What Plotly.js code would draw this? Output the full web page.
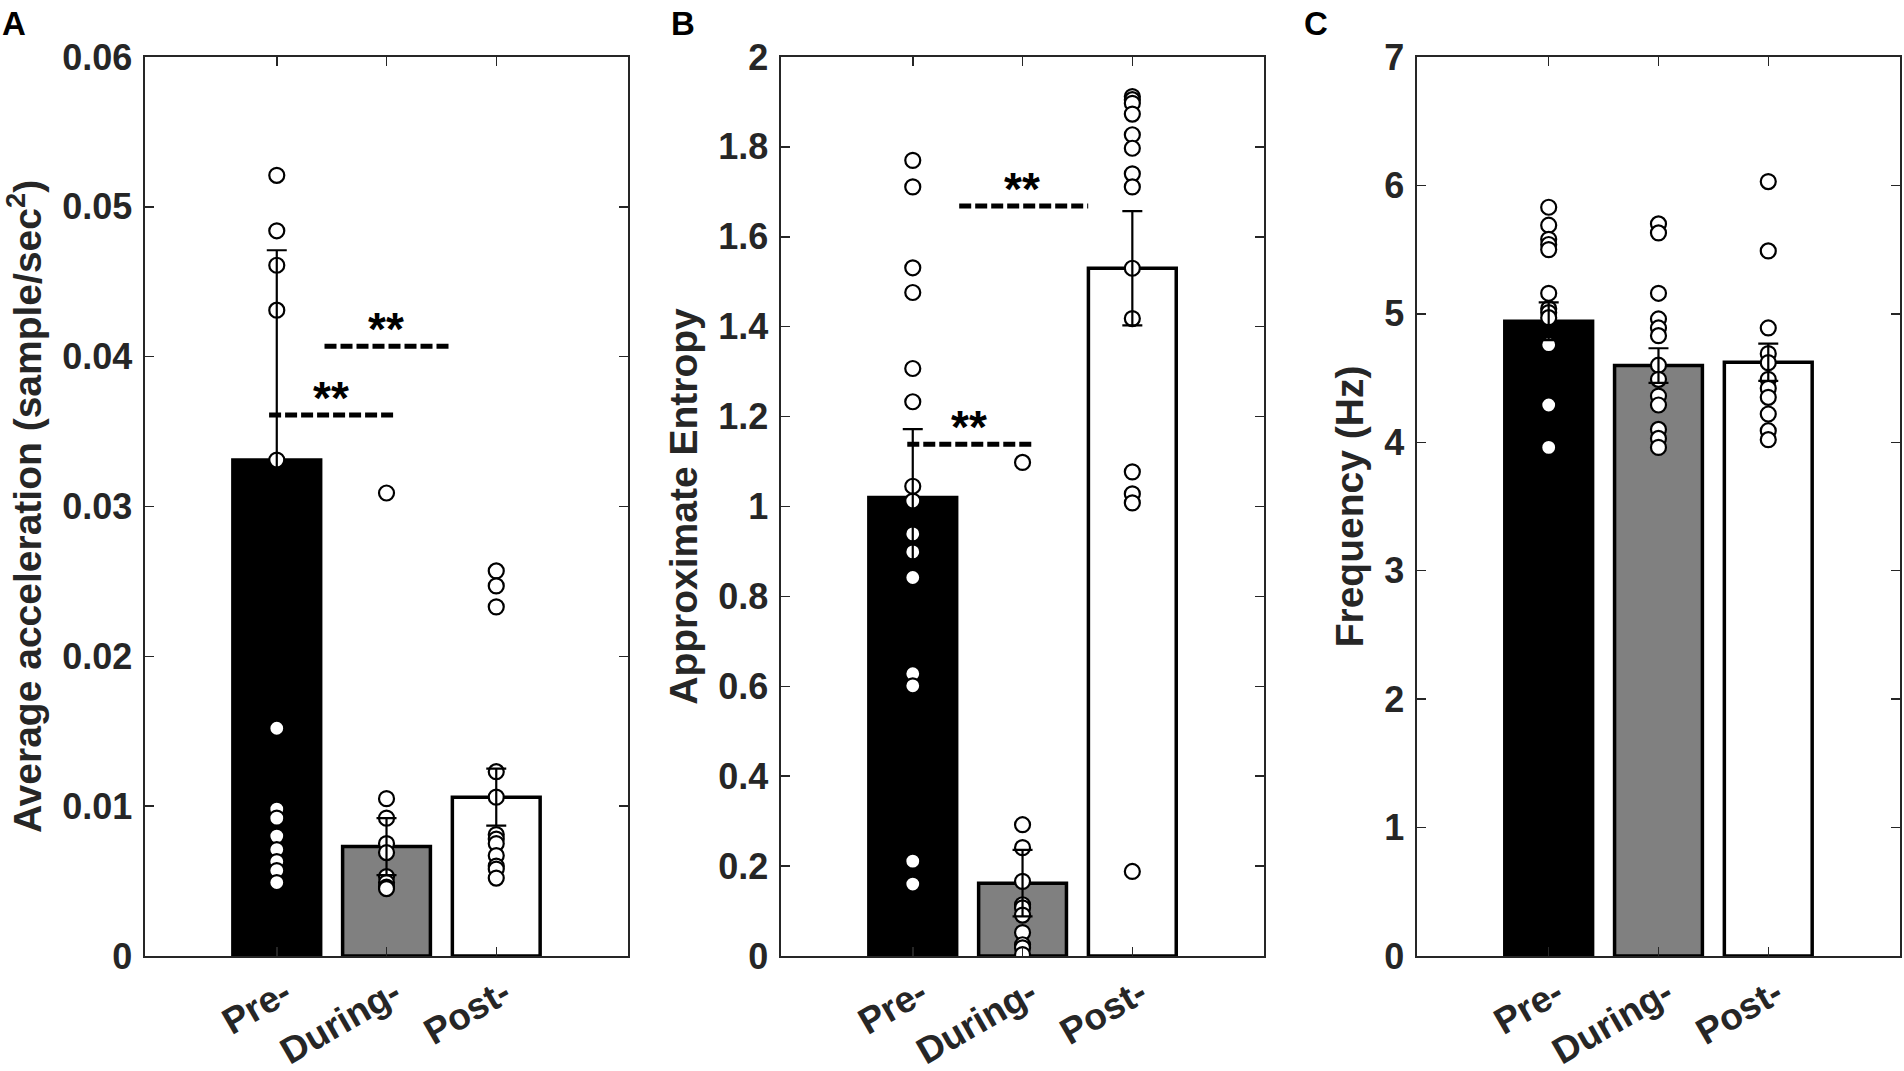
<!DOCTYPE html>
<html>
<head>
<meta charset="utf-8">
<script src="https://cdn.plot.ly/plotly-3.0.1.min.js"></script>
<style>
  html, body { margin: 0; padding: 0; background: #fff; }
  #chart { width: 1904px; height: 1071px; }
</style>
</head>
<body>
<div id="chart"></div>
<script>
// Group labels shared by all three panels
const CATEGORIES = ['Pre-', 'During-', 'Post-'];
const BAR_COLORS = ['#000000', '#808080', '#ffffff'];

// Panel A - average acceleration
const accelMean = [0.0331, 0.0073, 0.0106];
const accelSE = [0.0140, 0.0019, 0.0019];
const accelPre = [0.0521, 0.0484, 0.0461, 0.0431, 0.0331, 0.0152, 0.0098, 0.0092, 0.0080, 0.0071, 0.0063, 0.0057, 0.0049];
const accelDuring = [0.0309, 0.0105, 0.0092, 0.0075, 0.0069, 0.0053, 0.0049, 0.0046, 0.0045];
const accelPost = [0.0257, 0.0247, 0.0233, 0.0123, 0.0106, 0.0081, 0.0078, 0.0075, 0.0067, 0.0060, 0.0058, 0.0052];
// significance brackets: x start, x end, y
const accelSigX0 = [0.93, 1.435];
const accelSigX1 = [2.09, 2.587];
const accelSigY = [0.0361, 0.0407];

// Panel B - approximate entropy
const entropyMean = [1.020, 0.162, 1.530];
const entropySE = [0.152, 0.074, 0.127];
const entropyPre = [1.770, 1.711, 1.531, 1.476, 1.307, 1.233, 1.045, 1.012, 0.939, 0.899, 0.842, 0.628, 0.601, 0.211, 0.160];
const entropyDuring = [1.098, 0.292, 0.241, 0.166, 0.114, 0.107, 0.091, 0.052, 0.025, 0.018, 0.003];
const entropyPost = [1.912, 1.905, 1.897, 1.873, 1.827, 1.797, 1.740, 1.711, 1.530, 1.418, 1.077, 1.028, 1.008, 0.188];
const entropySigX0 = [0.95, 1.423];
const entropySigX1 = [2.114, 2.598];
const entropySigY = [1.1386, 1.6687];

// Panel C - frequency
const freqMean = [4.942, 4.597, 4.623];
const freqSE = [0.147, 0.135, 0.145];
const freqPre = [5.83, 5.69, 5.58, 5.54, 5.50, 5.16, 5.04, 5.01, 4.97, 4.76, 4.29, 3.96];
const freqDuring = [5.70, 5.63, 5.16, 4.96, 4.89, 4.83, 4.60, 4.49, 4.36, 4.29, 4.10, 4.03, 3.96];
const freqPost = [6.03, 5.49, 4.89, 4.69, 4.62, 4.49, 4.42, 4.35, 4.22, 4.09, 4.02];

const FONT = 'Liberation Sans, Arial, sans-serif';
const AXIS_COLOR = '#262626';
const CAT_X = [1, 2, 3];

const X_DOMAINS = [[0.0762, 0.3298], [0.4102, 0.6639], [0.7442, 0.9979]];
const Y_DOMAIN = [0.1074, 0.9468];

function refs(n) {
    return n === 1 ? ['x', 'y'] : ['x' + n, 'y' + n];
}

function panelTraces(n, means, se, groups) {
    const [xa, ya] = refs(n);
    const traces = [{
        type: 'bar',
        x: CAT_X,
        y: means,
        width: 0.8,
        xaxis: xa, yaxis: ya,
        marker: { color: BAR_COLORS, line: { color: '#000000', width: 3.5 } },
        hoverinfo: 'y',
    }];
    groups.forEach((vals, i) => {
        traces.push({
            type: 'scatter',
            mode: 'markers',
            x: vals.map(() => CAT_X[i]),
            y: vals,
            xaxis: xa, yaxis: ya,
            marker: { size: 15, color: '#ffffff', line: { color: '#000000', width: 2.2 } },
            hoverinfo: 'y',
        });
    });
    // error bars go last so they sit over the points
    traces.push({
        type: 'scatter',
        mode: 'markers',
        x: CAT_X,
        y: means,
        xaxis: xa, yaxis: ya,
        marker: { size: 1, color: 'rgba(0,0,0,0)' },
        error_y: { type: 'data', array: se, visible: true, color: '#000000', thickness: 2.2, width: 10 },
        hoverinfo: 'skip',
    });
    return traces;
}

function sigTraces(n, x0s, x1s, ys) {
    const [xa, ya] = refs(n);
    return ys.map((y, i) => ({
        type: 'scatter',
        mode: 'lines',
        x: [x0s[i], x1s[i]],
        y: [y, y],
        xaxis: xa, yaxis: ya,
        line: { color: '#000000', width: 5, dash: '12px,4px' },
        hoverinfo: 'skip',
    }));
}

function sigStars(n, x0s, x1s, ys) {
    const [xa, ya] = refs(n);
    return ys.map((y, i) => ({
        xref: xa, yref: ya,
        x: (x0s[i] + x1s[i]) / 2 - 0.02,
        y: y,
        text: '<b>**</b>',
        showarrow: false,
        yanchor: 'bottom',
        yshift: -11,
        font: { family: FONT, size: 46, color: '#000000' },
    }));
}

function xAxis(n) {
    return {
        domain: X_DOMAINS[n - 1],
        anchor: refs(n)[1],
        range: [-0.2, 4.2],
        tickvals: CAT_X,
        ticktext: CATEGORIES.map(c => '<b>' + c + '</b>'),
        tickangle: -30,
        ticks: 'inside',
        ticklen: 9,
        tickwidth: 1.5,
        tickcolor: AXIS_COLOR,
        ticklabelstandoff: 0,
        ticklabelshift: 8,
        showline: true,
        mirror: 'ticks',
        linecolor: AXIS_COLOR,
        linewidth: 1.6,
        showgrid: false,
        zeroline: false,
        fixedrange: true,
        tickfont: { family: FONT, size: 37, color: AXIS_COLOR, weight: 'bold' },
    };
}

function yAxis(n, range, dtick, title) {
    return {
        domain: Y_DOMAIN,
        anchor: refs(n)[0],
        range: range,
        dtick: dtick,
        tick0: 0,
        ticks: 'inside',
        ticklen: 9,
        tickwidth: 1.5,
        tickcolor: AXIS_COLOR,
        ticklabelstandoff: 4,
        showline: true,
        mirror: 'ticks',
        linecolor: AXIS_COLOR,
        linewidth: 1.6,
        showgrid: false,
        zeroline: false,
        fixedrange: true,
        tickfont: { family: FONT, size: 36, color: AXIS_COLOR, weight: 'bold' },
        title: { text: '<b>' + title + '</b>', standoff: 8, font: { family: FONT, size: 39, color: AXIS_COLOR, weight: 'bold' } },
    };
}

const data = [
    ...panelTraces(1, accelMean, accelSE, [accelPre, accelDuring, accelPost]),
    ...sigTraces(1, accelSigX0, accelSigX1, accelSigY),
    ...panelTraces(2, entropyMean, entropySE, [entropyPre, entropyDuring, entropyPost]),
    ...sigTraces(2, entropySigX0, entropySigX1, entropySigY),
    ...panelTraces(3, freqMean, freqSE, [freqPre, freqDuring, freqPost]),
];

const panelLetters = ['A', 'B', 'C'].map((t, i) => ({
    xref: 'paper', yref: 'paper',
    x: [0, 669, 1302][i] / 1904,
    y: 1 - 23 / 1071,
    xanchor: 'left', yanchor: 'middle',
    text: '<b>' + t + '</b>',
    showarrow: false,
    font: { family: FONT, size: 33, color: '#000000' },
}));

const layout = {
    width: 1904,
    height: 1071,
    margin: { l: 0, r: 0, t: 0, b: 0 },
    paper_bgcolor: '#ffffff',
    plot_bgcolor: '#ffffff',
    showlegend: false,
    font: { family: FONT, color: AXIS_COLOR },
    xaxis: xAxis(1),
    xaxis2: xAxis(2),
    xaxis3: xAxis(3),
    yaxis: yAxis(1, [0, 0.06], 0.01, 'Average acceleration (sample/sec<sup>2</sup>)'),
    yaxis2: yAxis(2, [0, 2], 0.2, 'Approximate Entropy'),
    yaxis3: yAxis(3, [0, 7], 1, 'Frequency (Hz)'),
    annotations: [
        ...panelLetters,
        ...sigStars(1, accelSigX0, accelSigX1, accelSigY),
        ...sigStars(2, entropySigX0, entropySigX1, entropySigY),
    ],
};

Plotly.newPlot('chart', data, layout, { displayModeBar: false, staticPlot: true });
</script>
</body>
</html>
